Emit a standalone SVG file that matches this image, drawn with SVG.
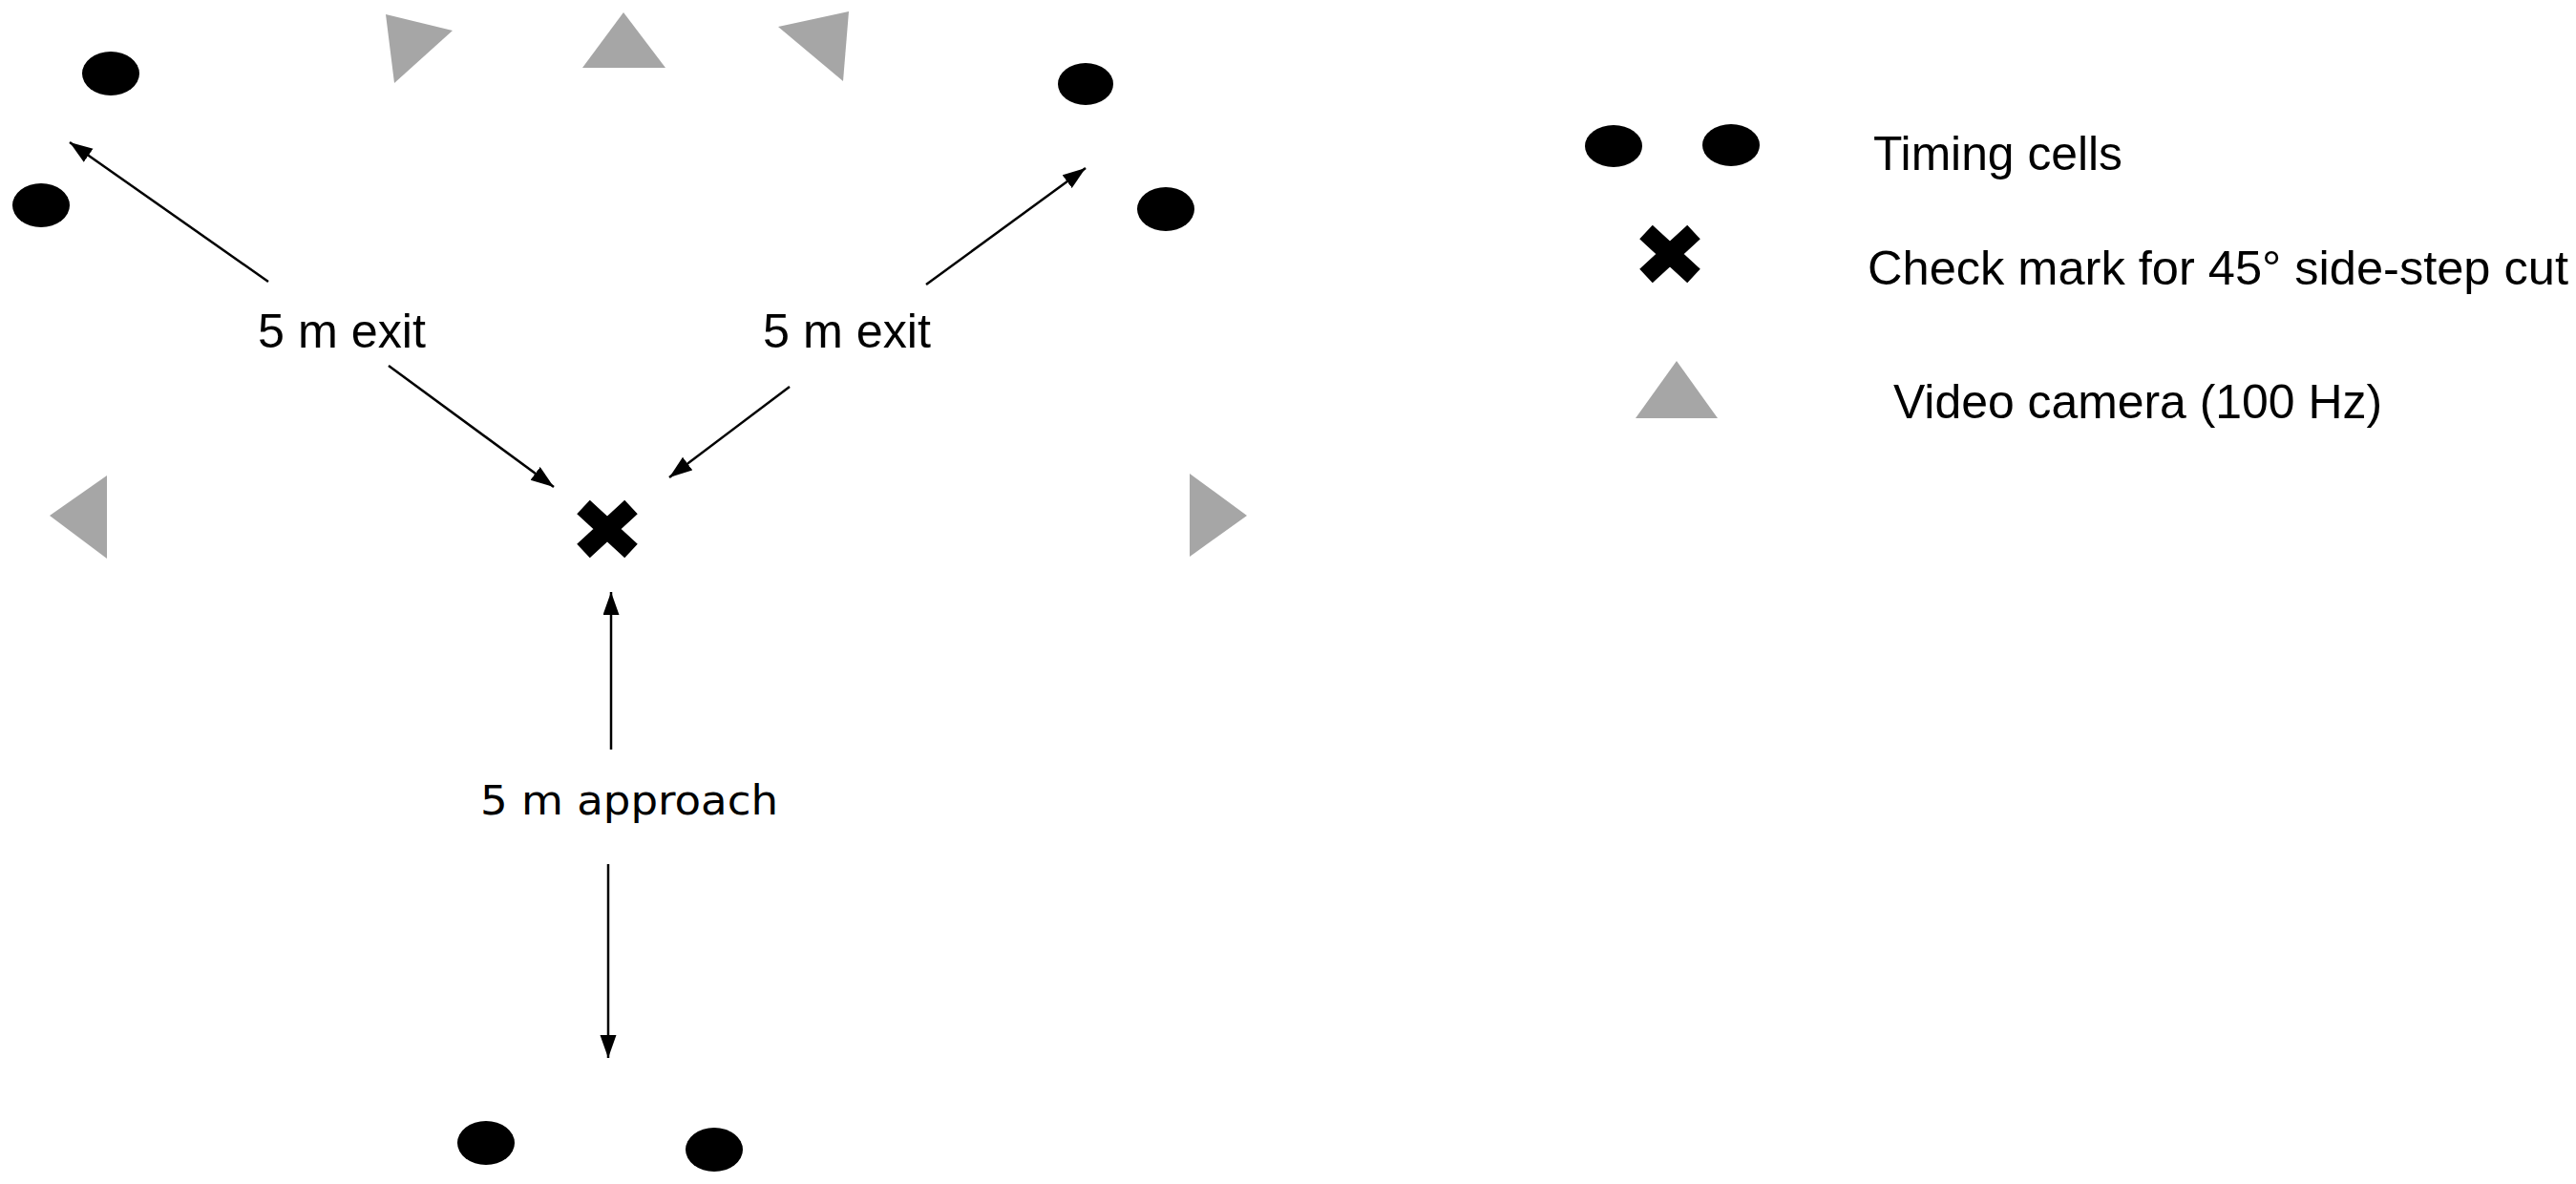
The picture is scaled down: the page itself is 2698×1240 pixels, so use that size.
<svg xmlns="http://www.w3.org/2000/svg" xmlns:xlink="http://www.w3.org/1999/xlink" width="2698" height="1240" viewBox="0 0 2698 1240">
<style>
.cell{fill:#000}
.cam{fill:#a6a6a6}
.lbl{font-family:"Liberation Sans",Arial,sans-serif;font-size:50px;fill:#000}
.lbl2{font-family:"DejaVu Sans",Verdana,sans-serif;font-size:43px;fill:#000}
.arr{stroke:#000;stroke-width:2.5;fill:none;marker-end:url(#ah)}
.xm{stroke:#000;stroke-width:20;fill:none}
</style>
<defs>
<marker id="ah" markerUnits="userSpaceOnUse" markerWidth="26" markerHeight="18" refX="24" refY="8.5" orient="auto">
<path d="M0,0 L24,8.5 L0,17 z" fill="#000"/>
</marker>
<g id="xmark">
<path class="xm" d="M-25,-23 L25,23 M25,-23 L-25,23"/>
</g>
</defs>
<rect width="2698" height="1240" fill="#fff"/>

<g id="connectors">
<line class="arr" x1="281" y1="295" x2="73" y2="149"/>
<line class="arr" x1="407" y1="383" x2="580" y2="510"/>
<line class="arr" x1="970" y1="298" x2="1137" y2="176"/>
<line class="arr" x1="827" y1="405" x2="701" y2="500"/>
<line class="arr" x1="640" y1="785" x2="640" y2="620"/>
<line class="arr" x1="637" y1="905" x2="637" y2="1108"/>
</g>

<g id="cell-tl1"><ellipse class="cell" cx="116" cy="77" rx="30" ry="23"/></g>
<g id="cell-tl2"><ellipse class="cell" cx="43" cy="215" rx="30" ry="23"/></g>
<g id="cell-tr1"><ellipse class="cell" cx="1137" cy="88" rx="29" ry="22"/></g>
<g id="cell-tr2"><ellipse class="cell" cx="1221" cy="219" rx="30" ry="23"/></g>
<g id="cell-b1"><ellipse class="cell" cx="509" cy="1197" rx="30" ry="23"/></g>
<g id="cell-b2"><ellipse class="cell" cx="748" cy="1204" rx="30" ry="23"/></g>

<g id="cam-1"><polygon class="cam" points="404,15 474,32 413,87"/></g>
<g id="cam-2"><polygon class="cam" points="653,13 610,71 697,71"/></g>
<g id="cam-3"><polygon class="cam" points="815,28 889,12 883,85"/></g>
<g id="cam-4"><polygon class="cam" points="52,540 112,498 112,585"/></g>
<g id="cam-5"><polygon class="cam" points="1246,496 1306,540 1246,583"/></g>

<g id="cut-mark"><use xlink:href="#xmark" href="#xmark" x="636" y="554"/></g>

<g id="label-exit-left"><text class="lbl" x="270" y="364" textLength="176" lengthAdjust="spacingAndGlyphs">5 m exit</text></g>
<g id="label-exit-right"><text class="lbl" x="799" y="364" textLength="176" lengthAdjust="spacingAndGlyphs">5 m exit</text></g>
<g id="label-approach"><text class="lbl2" x="503" y="853" textLength="312" lengthAdjust="spacingAndGlyphs">5 m approach</text></g>

<g id="legend">
<g id="legend-cells">
<ellipse class="cell" cx="1690" cy="153" rx="30" ry="22"/>
<ellipse class="cell" cx="1813" cy="152" rx="30" ry="22"/>
<text class="lbl" x="1962" y="178" textLength="261" lengthAdjust="spacingAndGlyphs">Timing cells</text>
</g>
<g id="legend-mark">
<use xlink:href="#xmark" href="#xmark" x="1749" y="266"/>
<text class="lbl" x="1956" y="298" textLength="734" lengthAdjust="spacingAndGlyphs">Check mark for 45° side-step cut</text>
</g>
<g id="legend-camera">
<polygon class="cam" points="1756,378 1713,438 1799,438"/>
<text class="lbl" x="1983" y="438" textLength="512" lengthAdjust="spacingAndGlyphs">Video camera (100 Hz)</text>
</g>
</g>
</svg>
